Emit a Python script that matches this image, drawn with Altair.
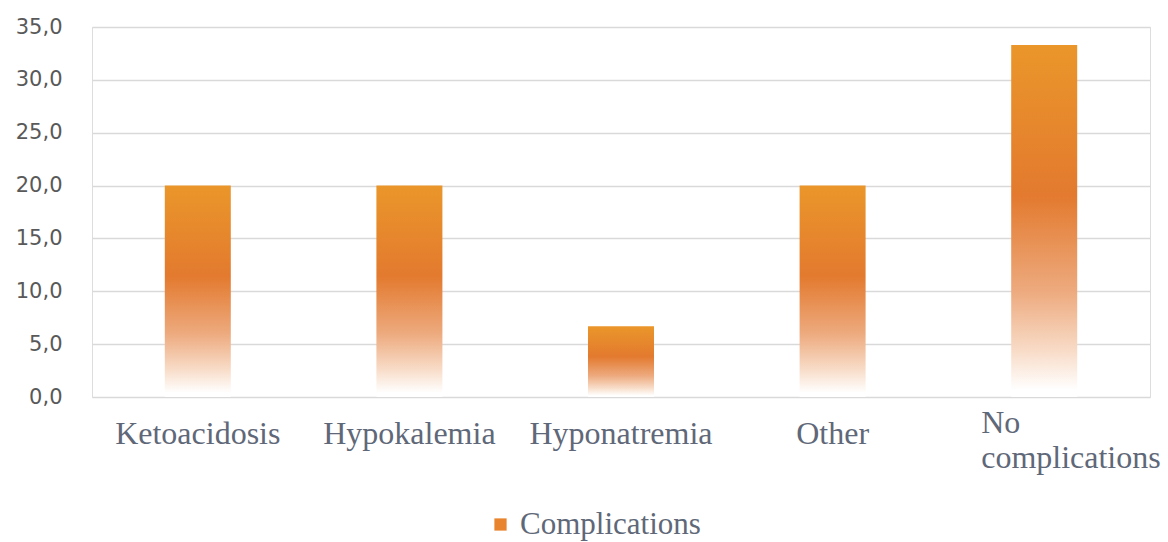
import altair as alt
import pandas as pd

categories = ["Ketoacidosis", "Hypokalemia", "Hyponatremia", "Other", "No complications"]
values = [20.0, 20.0, 6.7, 20.0, 33.3]
series = ["Complications"] * len(categories)
y_ticks = [0, 5, 10, 15, 20, 25, 30, 35]

df = pd.DataFrame({"category": categories, "value": values, "series": series})

label_expr = "datum.value == 'No complications' ? ['No', 'complications'] : datum.value"
is_last = "datum.value == 'No complications'"

grad = alt.Gradient(
    gradient="linear",
    x1=0, y1=0, x2=0, y2=1,
    stops=[
        alt.GradientStop(color="#EA962A", offset=0.0),
        alt.GradientStop(color="#E37A2F", offset=0.43),
        alt.GradientStop(color="#EDAA7E", offset=0.70),
        alt.GradientStop(color="#F8DCC8", offset=0.87),
        alt.GradientStop(color="#FFFFFF", offset=0.98),
    ],
)

x_enc = alt.X(
    "category:N",
    sort=categories,
    scale=alt.Scale(paddingInner=0, paddingOuter=0),
    axis=alt.Axis(
        title=None, labelAngle=0, domain=False, ticks=False,
        labelFont="Liberation Serif", labelFontSize=32, labelColor="#5f6878",
        labelPadding={"condition": {"test": is_last, "value": 35}, "value": 46},
        labelAlign={"condition": {"test": is_last, "value": "left"}, "value": "center"},
        labelOffset={"condition": {"test": is_last, "value": -63}, "value": 0},
        labelBaseline="alphabetic", labelLineHeight=35,
        labelExpr=label_expr, labelLimit=400,
    ),
)
y_enc = alt.Y(
    "value:Q",
    scale=alt.Scale(domain=[0, 35], nice=False),
    axis=alt.Axis(
        title=None, values=y_ticks, domain=False, ticks=False,
        labelFont="DejaVu Sans", labelFontSize=21, labelColor="#595959",
        labelPadding=30,
        labelExpr="replace(format(datum.value, '.1f'), '.', ',')",
        gridColor="#d9d9d9", gridWidth=1.5,
    ),
)

bars = alt.Chart(df).mark_bar(size=66, color=grad).encode(x=x_enc, y=y_enc)

legend_layer = alt.Chart(df).mark_bar(size=66, opacity=0).encode(
    x=alt.X("category:N", sort=categories),
    y=alt.Y("value:Q"),
    color=alt.Color(
        "series:N",
        scale=alt.Scale(range=["#E8842E"]),
        legend=alt.Legend(
            title=None, orient="none", legendX=393, legendY=482,
            symbolType="square", symbolSize=150, symbolOpacity=1,
            symbolStrokeWidth=0,
            labelFont="Liberation Serif", labelFontSize=31, labelColor="#5f6878",
            labelOffset=4, labelLimit=400, padding=0,
        ),
    ),
)

chart = (
    alt.layer(bars, legend_layer)
    .properties(width=1058, height=370, autosize=alt.AutoSizeParams(type="none"),
                padding={"left": 92, "top": 27, "right": 18, "bottom": 145})
    .configure_view(stroke=None)
    .configure(background="white")
)

chart.save("out.html", embed_options={"renderer": "svg", "actions": False})
